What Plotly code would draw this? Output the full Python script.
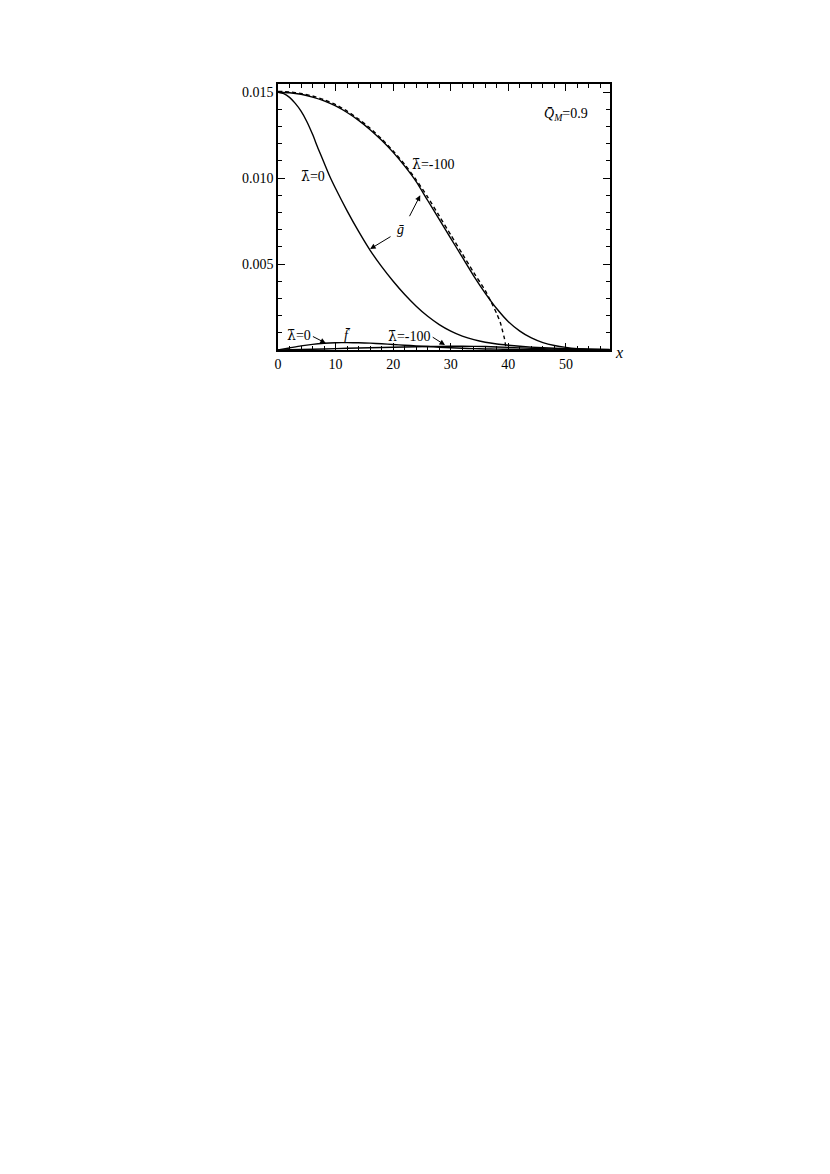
import plotly.graph_objects as go

# g-bar, lambda=0 (solid)
x_g0 = [0, 1, 2, 3, 4, 5, 6, 7, 8, 9, 10, 12, 14, 16, 18, 20, 22, 24, 26, 28, 30, 32, 34, 36, 38, 40, 42, 44, 46,
        48, 50, 52, 54, 56, 57.6]
g_l0 = [0.0150, 0.01492, 0.0147, 0.01435, 0.0139, 0.0133, 0.01255, 0.0117, 0.0109, 0.0101, 0.0094, 0.0081, 0.0069,
        0.0058, 0.00485, 0.0040, 0.00323, 0.00255, 0.00196, 0.00148, 0.0011, 0.00081, 0.0006, 0.00045, 0.00035,
        0.00028, 0.00022, 0.00017, 0.00013, 0.0001, 0.00008, 0.00006, 0.00005, 0.00004, 0.00003]

# g-bar, lambda=-100 (solid)
x_g100 = [0, 2, 4, 6, 8, 10, 12, 14, 16, 18, 20, 22, 24, 26, 28, 30, 32, 34, 36, 38, 40, 42, 44, 46, 48, 50, 52, 54, 56, 57.6]
g_l100 = [0.0150, 0.01497, 0.01488, 0.01472, 0.0145, 0.0142, 0.01382, 0.01336, 0.01282, 0.0122, 0.0115, 0.0107,
          0.0098, 0.0087, 0.0076, 0.0065, 0.0054, 0.0043, 0.0033, 0.0024, 0.00165, 0.0011, 0.0007, 0.00043,
          0.00026, 0.00015, 0.00008, 0.00004, 0.00002, 0.00001]

# Thomas-Fermi like approximation (dashed)
x_tf = [0, 2, 4, 6, 8, 10, 12, 14, 16, 18, 20, 22, 24, 26, 28, 30, 32, 34, 36, 37, 38, 38.6, 39, 39.3, 39.5, 39.6]
g_tf = [0.01505, 0.01502, 0.01493, 0.01478, 0.01456, 0.01428, 0.0139, 0.01344, 0.0129, 0.01228, 0.01158, 0.0108,
        0.0099, 0.0089, 0.0078, 0.0067, 0.0056, 0.0045, 0.00345, 0.0028, 0.0021, 0.0016, 0.0011, 0.0007, 0.0003, 0.0]

# f-bar, lambda=0
x_f0 = [0, 2, 4, 6, 8, 10, 12, 14, 16, 18, 20, 22, 24, 26, 28, 30, 32, 34, 36, 38, 40, 44, 48, 52, 57.6]
f_l0 = [0.0, 0.00012, 0.00024, 0.00033, 0.00039, 0.00042, 0.00043, 0.00042, 0.0004, 0.00036, 0.00032, 0.00028, 0.00024,
        0.0002, 0.00016, 0.00013, 0.0001, 0.00008, 0.00006, 0.00005, 0.00004, 0.00002, 0.00001, 0.0, 0.0]

# f-bar, lambda=-100
x_f100 = [0, 4, 8, 12, 16, 20, 24, 28, 32, 36, 40, 44, 48, 52, 56, 57.6]
f_l100 = [0.0, 0.00003, 0.00006, 0.0001, 0.00013, 0.00016, 0.00019, 0.00021, 0.00022, 0.0002, 0.00015, 0.0001,
          0.00005, 0.00002, 0.0, 0.0]

x_ticks = [0, 10, 20, 30, 40, 50]
y_ticks = [0.005, 0.010, 0.015]
y_ticktext = ["0.005", "0.010", "0.015"]

FONT = "Liberation Serif"
LINE = dict(color="black", width=1.4)

fig = go.Figure()
for xs, ys in [(x_g0, g_l0), (x_g100, g_l100), (x_f0, f_l0), (x_f100, f_l100)]:
    fig.add_trace(go.Scatter(x=xs, y=ys, mode="lines", line=dict(LINE, shape="spline", smoothing=0.6),
                             showlegend=False, hoverinfo="skip"))
fig.add_trace(go.Scatter(x=x_tf, y=g_tf, mode="lines",
                         line=dict(color="black", width=1.4, dash="4px,3px", shape="spline", smoothing=0.6),
                         showlegend=False, hoverinfo="skip"))

LB = "<span style='font-family:DejaVu Serif'>\u03bb\u0304</span>"
texts = [
    (6.0, 0.0101, LB + "=0"),
    (27.0, 0.0108, LB + "=-100"),
    (50.0, 0.01372, "<i>Q\u0304</i><sub><i>M</i></sub>=0.9"),
    (21.3, 0.0070, "<i>\u1e21</i>"),
    (12.1, 0.00087, "<i>f\u0304</i>"),
    (3.6, 0.00087, LB + "=0"),
    (22.8, 0.00084, LB + "=-100"),
]
for tx, ty, t in texts:
    fig.add_annotation(x=tx, y=ty, text=t, showarrow=False, font=dict(family=FONT, size=14, color="black"))

arrows = [
    # tail (ax, ay) -> head (x, y)
    (19.8, 0.00665, 16.0, 0.00588),
    (22.7, 0.00770, 24.7, 0.00900),
    (5.8, 0.00083, 8.3, 0.00040),
    (26.6, 0.00080, 29.0, 0.00029),
]
for ax_, ay_, hx, hy in arrows:
    fig.add_annotation(x=hx, y=hy, ax=ax_, ay=ay_, xref="x", yref="y", axref="x", ayref="y", text="",
                       showarrow=True, arrowhead=2, arrowsize=1.1, arrowwidth=1, arrowcolor="black")

fig.add_annotation(x=1.0, xref="paper", xanchor="left", xshift=3, y=0, yref="y", yshift=-2,
                   text="<i>x</i>", showarrow=False, font=dict(family=FONT, size=16, color="black"))

axis_common = dict(showgrid=False, zeroline=False, showline=True, linecolor="black", linewidth=1.5,
                   mirror="ticks", ticks="inside", ticklen=7, tickwidth=1, tickcolor="black",
                   tickfont=dict(family=FONT, size=14, color="black"))

fig.update_xaxes(range=[0, 57.65], tickmode="array", tickvals=x_ticks,
                 minor=dict(tickmode="linear", tick0=0, dtick=2, ticks="inside", ticklen=4, tickcolor="black"),
                 **axis_common)
fig.update_yaxes(range=[0, 0.01548], tickmode="array", tickvals=y_ticks, ticktext=y_ticktext,
                 minor=dict(tickmode="linear", tick0=0, dtick=0.001, ticks="inside", ticklen=4, tickcolor="black"),
                 **axis_common)

fig.update_layout(width=830, height=1174, autosize=False,
                  margin=dict(l=270, r=228, t=76, b=832, pad=0),
                  paper_bgcolor="white", plot_bgcolor="white",
                  font=dict(family=FONT, size=14, color="black"))

fig.write_html("out.html")
